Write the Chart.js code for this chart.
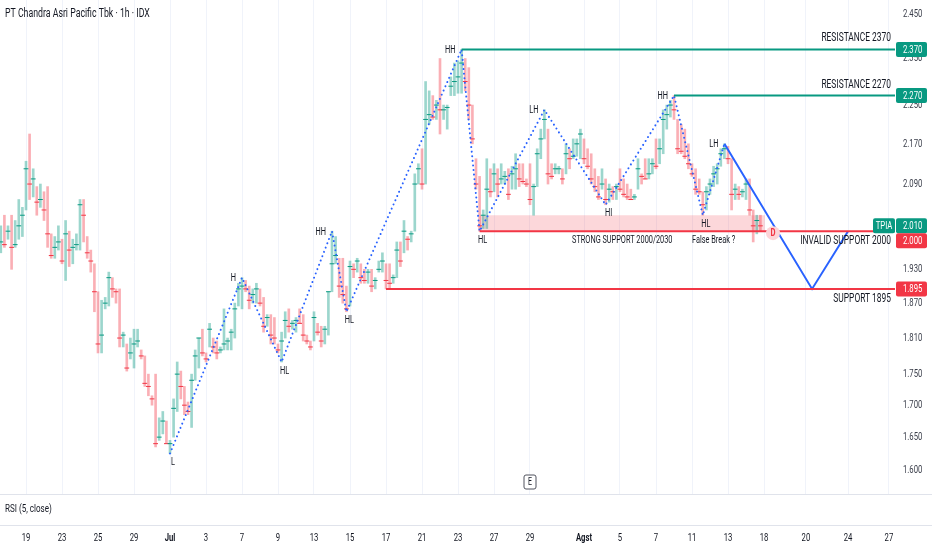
<!DOCTYPE html>
<html><head><meta charset="utf-8">
<script src="https://cdn.jsdelivr.net/npm/chart.js@4.4.1/dist/chart.umd.min.js"></script>
<style>html,body{margin:0;padding:0;background:#fff;overflow:hidden}</style>
</head><body>
<canvas id="c" width="932" height="550"></canvas>
<script>
// ---------- DATA ----------
const title = 'PT Chandra Asri Pacific Tbk · 1h · IDX';
const symbol = 'TPIA';
const firstBarDay = -9.4;   // trading-day index of first bar (1 Jul = 0)
const barStep = 0.2;        // 5 hourly bars per trading day

const highs = [2010,2030,2010,2030,2020,2060,2045,2135,2190,2120,
 2085,2090,2075,2085,1995,1990,2010,1985,2020,2000,
 1985,1995,2060,2060,1990,1965,1940,1890,1875,1880,
 1925,1915,1895,1895,1820,1800,1810,1825,1825,1790,
 1780,1750,1715,1750,1680,1690,1675,1645,1710,1770,
 1755,1730,1705,1750,1790,1810,1825,1785,1835,1810,
 1805,1795,1860,1810,1825,1870,1905,1915,1910,1900,
 1895,1905,1895,1880,1850,1850,1845,1800,1820,1855,
 1860,1840,1845,1860,1850,1815,1805,1855,1835,1830,
 1830,1890,2000,1990,1950,1950,1900,1945,1940,1950,
 1940,1930,1930,1930,1915,1945,1960,1940,1940,1920,
 1980,1980,2020,1990,2000,2110,2130,2160,2300,2280,
 2270,2260,2350,2250,2250,2310,2340,2345,2370,2350,
 2330,2250,2140,2105,2040,2140,2120,2130,2120,2130,
 2115,2120,2125,2150,2130,2130,2100,2130,2090,2160,
 2200,2240,2200,2130,2130,2125,2120,2170,2160,2180,
 2180,2200,2180,2160,2150,2120,2105,2120,2100,2090,
 2085,2090,2120,2100,2090,2080,2070,2140,2110,2140,
 2140,2140,2180,2180,2240,2250,2260,2270,2220,2210,
 2200,2170,2130,2120,2100,2075,2085,2100,2125,2130,
 2160,2170,2165,2140,2090,2085,2080,2100,2100,2040,
 2030,2030];
const lows = [1960,1970,1985,1930,1970,1985,1990,2040,2060,2065,
 2030,2045,2020,1970,1950,1950,1965,1940,1910,1935,
 1940,1965,1965,1980,1950,1925,1855,1785,1785,1860,
 1865,1880,1870,1795,1795,1755,1775,1760,1795,1775,
 1730,1715,1700,1635,1645,1655,1640,1625,1650,1690,
 1710,1685,1685,1665,1740,1760,1780,1770,1795,1785,
 1775,1785,1790,1790,1790,1810,1865,1860,1890,1860,
 1870,1870,1865,1820,1830,1800,1800,1785,1770,1810,
 1820,1825,1820,1835,1805,1800,1790,1805,1815,1795,
 1800,1815,1890,1940,1880,1870,1855,1865,1915,1925,
 1905,1905,1905,1890,1895,1925,1925,1895,1895,1905,
 1915,1935,1960,1965,1980,2000,2090,2080,2090,2210,
 2220,2220,2190,2220,2200,2270,2270,2275,2275,2280,
 2220,2170,2080,2000,2005,2005,2065,2075,2065,2090,
 2090,2060,2080,2080,2085,2090,2085,2050,2030,2085,
 2140,2180,2090,2100,2110,2110,2090,2110,2120,2140,
 2145,2140,2130,2120,2090,2075,2060,2080,2050,2055,
 2060,2060,2075,2065,2060,2060,2060,2080,2090,2100,
 2100,2110,2120,2130,2150,2200,2225,2220,2150,2150,
 2140,2120,2105,2070,2070,2030,2040,2070,2085,2090,
 2125,2140,2130,2040,2060,2060,2065,2060,2030,1980,
 1995,2000];
const closes = [1980,1975,2000,1970,1975,2010,2030,2120,2090,2100,
 2055,2060,2040,1995,1955,1970,1980,1945,1995,1965,
 1970,1975,2050,2030,1960,1945,1890,1800,1815,1870,
 1915,1895,1890,1810,1815,1760,1785,1800,1805,1780,
 1735,1730,1710,1640,1650,1675,1640,1640,1695,1750,
 1730,1700,1690,1740,1780,1810,1785,1775,1825,1795,
 1785,1790,1800,1805,1820,1860,1895,1900,1895,1875,
 1885,1895,1870,1830,1845,1815,1810,1790,1805,1840,
 1830,1835,1840,1835,1815,1805,1795,1845,1820,1805,
 1825,1890,1940,1955,1900,1885,1860,1935,1930,1945,
 1915,1910,1925,1900,1910,1930,1945,1910,1905,1915,
 1965,1945,2000,1985,1995,2090,2120,2090,2220,2230,
 2225,2250,2240,2240,2245,2290,2300,2310,2340,2300,
 2250,2180,2090,2010,2030,2080,2075,2110,2090,2100,
 2105,2070,2110,2120,2100,2095,2090,2060,2085,2150,
 2180,2220,2110,2105,2120,2120,2100,2150,2140,2145,
 2170,2190,2140,2125,2100,2085,2065,2090,2060,2080,
 2075,2085,2080,2070,2065,2060,2065,2120,2105,2100,
 2110,2130,2125,2160,2220,2230,2250,2240,2160,2155,
 2145,2130,2110,2080,2075,2050,2075,2090,2110,2120,
 2150,2160,2140,2070,2080,2070,2075,2090,2040,2010,
 2020,2010];

// x axis (trading-day index) ticks
const xTickDays = [-8,-6,-4,-2,0,2,4,6,8,10,12,14,16,18,20,23,25,27,29,31,33,35.33,37.67,39.94];
const xTickLabels = ['19','23','25','29','Jul','3','7','9','13','15','17','21','23','27','29','Agst','5','7','11','13','18','20','24','27'];
const xBoldLabels = ['Jul','Agst'];
// y axis ticks (price, log scale)
const yTickValues = [1600,1650,1700,1750,1810,1870,1930,2010,2090,2170,2250,2350,2450];

// zigzag pivots
const pivotDays   = [0.0, 4.0, 6.2, 9.0, 9.8, 16.2, 17.2, 20.8, 24.2, 28.0, 29.6, 30.8];
const pivotPrices = [1625,1915,1770,2000,1855,2370,2000,2240,2050,2270,2030,2170];
const pivotLabels = ['L','H','HL','HH','HL','HH','HL','LH','HI','HH','HL','LH'];
const pivotIsHigh = [false,true,false,true,false,true,false,true,false,true,false,true];

// projected path
const projDays   = [30.8, 35.67, 37.67];
const projPrices = [2170, 1895, 2000];

// horizontal levels
const levelPrices    = [2370, 2270, 2000, 1895];
const levelStartDays = [16.2, 28.0, 17.2, 12.0];
const levelTexts     = ['RESISTANCE 2370','RESISTANCE 2270','INVALID SUPPORT 2000','SUPPORT 1895'];
const levelIsSupport = [false, false, true, true];

// support zone
const zoneDays = [17.2, 33.05];
const zoneLow = 2000, zoneHigh = 2030;
const zoneText = 'STRONG SUPPORT 2000/2030';
const noteDay = 30.2, noteText = 'False Break ?';

// markers
const lastPrice = 2010;
const dividendDay = 33.5, dividendPrice = 2000;
const earningsDay = 20;

// ---------- STYLE ----------
const GREEN = '#089981', RED = '#f23645', BLUE = '#2962ff', TEXT = '#131722';
const FONT = 'Roboto, "Liberation Sans", sans-serif';
const SX = 0.7;
const X_MIN = -170/18, X_MAX = 725/18;
const Y_MIN = 1520, Y_MAX = 2482;

const dayOf = i => firstBarDay + i * barStep;
const isUp = i => i === 0 ? true : closes[i] >= closes[i-1];

function ctext(ctx, s, x, y, size, color, align, bold) {
  ctx.save();
  ctx.font = (bold ? 'bold ' : '') + size + 'px ' + FONT;
  ctx.fillStyle = color; ctx.textAlign = align || 'left'; ctx.textBaseline = 'middle';
  ctx.translate(x, y); ctx.scale(SX, 1); ctx.fillText(s, 0, 0); ctx.restore();
}
function rrect(ctx, x, y, w, h, r) {
  ctx.beginPath(); ctx.moveTo(x+r, y); ctx.lineTo(x+w-r, y); ctx.quadraticCurveTo(x+w, y, x+w, y+r);
  ctx.lineTo(x+w, y+h-r); ctx.quadraticCurveTo(x+w, y+h, x+w-r, y+h); ctx.lineTo(x+r, y+h);
  ctx.quadraticCurveTo(x, y+h, x, y+h-r); ctx.lineTo(x, y+r); ctx.quadraticCurveTo(x, y, x+r, y); ctx.closePath();
}
const fmt = v => (v/1000).toFixed(3);

// ---------- DATASETS ----------
const datasets = [];
datasets.push({
  type: 'bar', order: 2,
  data: highs.map((h, i) => ({x: dayOf(i), y: [lows[i], h]})),
  backgroundColor: c => isUp(c.dataIndex) ? 'rgba(8,153,129,0.4)' : 'rgba(242,54,69,0.4)',
  barThickness: 2, grouped: false
});
datasets.push({
  type: 'scatter', order: 1,
  data: closes.map((c, i) => ({x: dayOf(i), y: c})),
  pointStyle: 'line', pointRadius: 2.4, borderWidth: 1,
  borderColor: c => isUp(c.dataIndex) ? GREEN : RED
});
datasets.push({
  type: 'line', order: 10,
  data: zoneDays.map(d => ({x: d, y: zoneHigh})),
  borderWidth: 0, pointRadius: 0, fill: {value: zoneLow},
  backgroundColor: 'rgba(242,54,69,0.2)'
});
levelPrices.forEach((p, k) => datasets.push({
  type: 'line', order: 0,
  data: [{x: levelStartDays[k], y: p}, {x: X_MAX, y: p}],
  borderColor: levelIsSupport[k] ? RED : GREEN, borderWidth: 2, pointRadius: 0
}));
datasets.push({
  type: 'line', order: 0,
  data: pivotDays.map((d, i) => ({x: d, y: pivotPrices[i]})),
  borderColor: BLUE, borderWidth: 2, borderDash: [0.01, 4.6], borderCapStyle: 'round',
  pointRadius: 0, tension: 0
});
datasets.push({
  type: 'line', order: 0,
  data: projDays.map((d, i) => ({x: d, y: projPrices[i]})),
  borderColor: BLUE, borderWidth: 2, pointRadius: 0
});

// ---------- OVERLAY PLUGIN ----------
const overlay = {
  id: 'overlay',
  afterDatasetsDraw(chart) {
    const ctx = chart.ctx, xs = chart.scales.x, ys = chart.scales.y, ca = chart.chartArea;
    // pivot labels
    pivotLabels.forEach((t, i) => {
      const px = xs.getPixelForValue(pivotDays[i]), py = ys.getPixelForValue(pivotPrices[i]);
      if (pivotIsHigh[i]) ctext(ctx, t, px - 6, py + 1, 10.5, TEXT, 'right');
      else ctext(ctx, t, px + 3, py + 9, 10.5, TEXT, 'center');
    });
    // level texts
    levelPrices.forEach((p, k) => {
      const py = ys.getPixelForValue(p);
      ctext(ctx, levelTexts[k], ca.right - 4, py + (levelIsSupport[k] ? 10 : -11), 12, TEXT, 'right');
    });
    // zone text & note
    const zy = ys.getPixelForValue(zoneLow);
    const zx = (xs.getPixelForValue(zoneDays[0]) + xs.getPixelForValue(zoneDays[1])) / 2;
    ctext(ctx, zoneText, zx, zy + 9.5, 10.5, TEXT, 'center');
    ctext(ctx, noteText, xs.getPixelForValue(noteDay), zy + 9.5, 10.5, TEXT, 'center');
    // dividend marker
    const dx = xs.getPixelForValue(dividendDay), dy = ys.getPixelForValue(dividendPrice) + 2;
    ctx.save(); ctx.beginPath(); ctx.arc(dx, dy, 7, 0, Math.PI*2);
    ctx.fillStyle = '#fcd4d8'; ctx.fill(); ctx.restore();
    ctext(ctx, 'D', dx, dy + 0.5, 11, RED, 'center', true);
    // earnings marker
    const ex = xs.getPixelForValue(earningsDay), ey = ca.bottom - 31 - 12;
    ctx.save(); rrect(ctx, ex - 6, ey - 7, 12, 14, 2);
    ctx.fillStyle = '#fff'; ctx.fill(); ctx.strokeStyle = '#50535e'; ctx.lineWidth = 1; ctx.stroke(); ctx.restore();
    ctext(ctx, 'E', ex, ey + 0.5, 10, TEXT, 'center');
  },
  afterDraw(chart) {
    const ctx = chart.ctx, xs = chart.scales.x, ys = chart.scales.y, ca = chart.chartArea;
    const W = chart.width;
    // RSI pane
    const pTop = ca.bottom - 31;
    ctx.save();
    ctx.fillStyle = '#fff'; ctx.fillRect(0, pTop, W, 31);
    ctx.strokeStyle = '#e0e3eb'; ctx.lineWidth = 1;
    ctx.beginPath(); ctx.moveTo(0, pTop + 0.5); ctx.lineTo(W, pTop + 0.5);
    ctx.moveTo(0, ca.bottom + 0.5); ctx.lineTo(W, ca.bottom + 0.5); ctx.stroke();
    ctx.restore();
    ctext(ctx, 'RSI (5, close)', 5, pTop + 15, 11.5, TEXT, 'left');
    // title
    ctext(ctx, title, 5, 14, 12.5, TEXT, 'left');
    // y tick labels
    ys.ticks.forEach(t => {
      ctext(ctx, fmt(t.value), ca.right + 8, ys.getPixelForValue(t.value), 11, '#3a3e4a', 'left');
    });
    // price boxes (with simple overlap avoidance)
    const boxes = [
      {p: 2370, c: GREEN}, {p: 2270, c: GREEN}, {p: lastPrice, c: GREEN, sym: symbol},
      {p: 2000, c: RED}, {p: 1895, c: RED}
    ].map(b => Object.assign(b, {y: ys.getPixelForValue(b.p)})).sort((a, b) => a.y - b.y);
    for (let i = 1; i < boxes.length; i++) if (boxes[i].y - boxes[i-1].y < 15) boxes[i].y = boxes[i-1].y + 15;
    boxes.forEach(b => {
      ctx.save(); ctx.fillStyle = b.c; rrect(ctx, ca.right + 1, b.y - 7.5, 31, 15, 2); ctx.fill(); ctx.restore();
      ctext(ctx, fmt(b.p), ca.right + 8, b.y + 0.5, 11, '#fff', 'left');
      if (b.sym) {
        ctx.save(); ctx.fillStyle = b.c; rrect(ctx, ca.right - 22, b.y - 7.5, 22, 15, 2); ctx.fill(); ctx.restore();
        ctext(ctx, b.sym, ca.right - 11, b.y + 0.5, 11, '#fff', 'center');
      }
    });
    // x tick labels
    xs.ticks.forEach(t => {
      const lab = xTickLabels[xTickDays.indexOf(t.value)];
      if (lab === undefined) return;
      ctext(ctx, lab, xs.getPixelForValue(t.value), ca.bottom + 13, 11, TEXT, 'center', xBoldLabels.includes(lab));
    });
  }
};

// ---------- CHART ----------
new Chart(document.getElementById('c'), {
  type: 'bar',
  data: {datasets},
  options: {
    responsive: false, animation: false, devicePixelRatio: 1,
    layout: {padding: 0, autoPadding: false},
    plugins: {legend: {display: false}, tooltip: {enabled: false}},
    events: [],
    scales: {
      x: {
        type: 'linear', min: X_MIN, max: X_MAX, offset: false,
        grid: {color: '#f0f3fa', lineWidth: 1, drawTicks: false, offset: false},
        border: {display: false},
        ticks: {display: false},
        afterBuildTicks: s => { s.ticks = xTickDays.map(v => ({value: v})); },
        afterFit: s => { s.height = 25; }
      },
      y: {
        type: 'logarithmic', position: 'right', min: Y_MIN, max: Y_MAX,
        grid: {display: false, drawTicks: false},
        border: {display: false},
        ticks: {display: false},
        afterBuildTicks: s => { s.ticks = yTickValues.map(v => ({value: v})); },
        afterFit: s => { s.width = 37; }
      }
    }
  },
  plugins: [overlay]
});
</script>
</body></html>
